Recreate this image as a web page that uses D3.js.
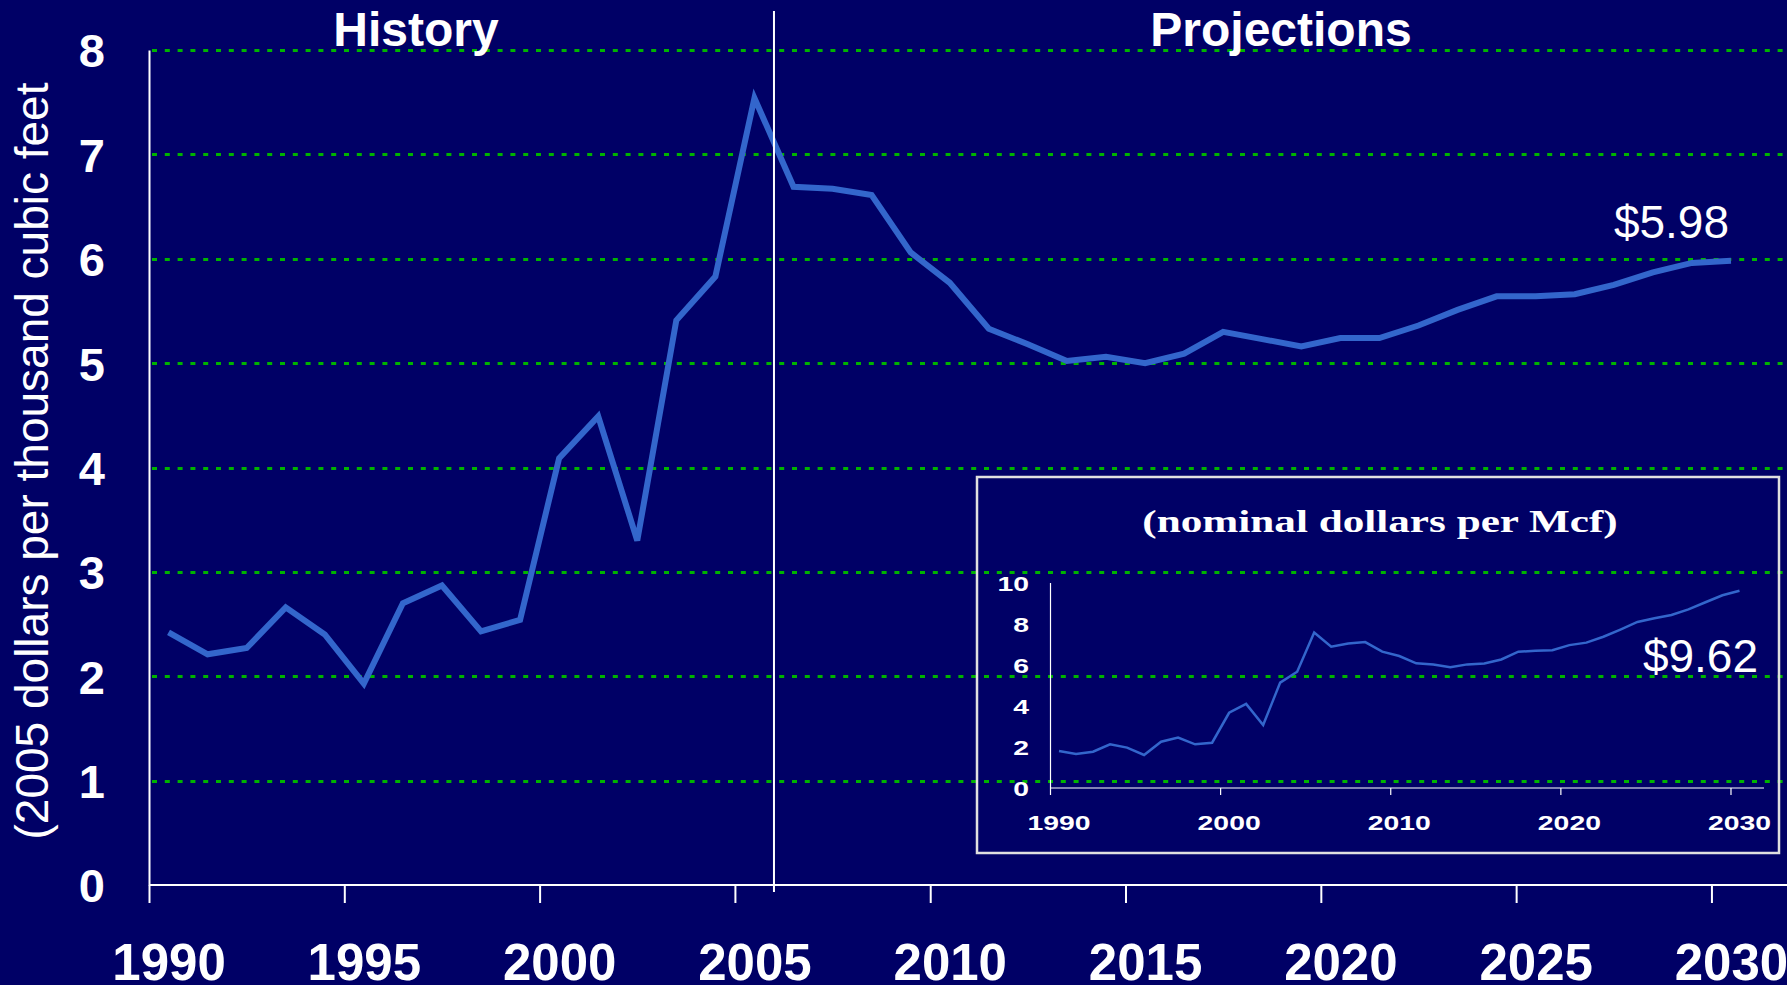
<!DOCTYPE html>
<html>
<head>
<meta charset="utf-8">
<script src="https://cdn.jsdelivr.net/npm/d3@7"></script>
<style>
  html, body { margin: 0; padding: 0; background: #000066; }
  svg { display: block; font-family: "Liberation Sans", Arial, sans-serif; }
</style>
</head>
<body>
<div id="chart"></div>
<script>
// Size of the slide
var width = 1787;
var height = 985;

// Chart data
var years = d3.range(1990, 2031);
var tickYears = [1990, 1995, 2000, 2005, 2010, 2015, 2020, 2025, 2030];
var yTicks = [0, 1, 2, 3, 4, 5, 6, 7, 8];

// 2005 dollars per thousand cubic feet
var realPrice = [2.42, 2.21, 2.27, 2.66, 2.40, 1.93, 2.70, 2.87, 2.43, 2.54,
    4.09, 4.49, 3.30, 5.41, 5.83, 7.54, 6.69, 6.67, 6.61, 6.06,
    5.77, 5.33, 5.18, 5.02, 5.06, 5.00, 5.09, 5.30, 5.23, 5.16,
    5.24, 5.24, 5.36, 5.51, 5.64, 5.64, 5.66, 5.75, 5.87, 5.96, 5.98];

// nominal dollars per Mcf (inset)
var nominalPrice = [1.81, 1.66, 1.77, 2.13, 1.97, 1.61, 2.26, 2.46, 2.13, 2.21,
    3.67, 4.10, 3.07, 5.14, 5.67, 7.58, 6.89, 7.05, 7.12, 6.65,
    6.44, 6.08, 6.02, 5.89, 6.03, 6.07, 6.27, 6.65, 6.69, 6.72,
    6.97, 7.09, 7.38, 7.73, 8.10, 8.28, 8.44, 8.71, 9.06, 9.40, 9.62];
var insetTickYears = [1990, 2000, 2010, 2020, 2030];
var insetYTicks = [0, 2, 4, 6, 8, 10];

var lineColor = "#3366cc";
var gridColor = "#00b400";

var svg = d3.select("#chart")
    .append("svg")
    .attr("width", width)
    .attr("height", height);

svg.append("rect")
    .attr("width", width)
    .attr("height", height)
    .attr("fill", "#000066");

// Scales: x is categorical, one slot per year, ticks on slot boundaries
var x = d3.scaleLinear()
    .domain([1990, 2031])
    .range([149, 1750.5]);
var half = (x(1991) - x(1990)) / 2;

var y = d3.scaleLinear()
    .domain([0, 8])
    .range([885, 50]);

// Gridlines (snapped to whole pixels so the dots stay crisp)
svg.append("g")
    .selectAll("line")
    .data(yTicks.filter(function(d) { return d > 0; }))
    .enter()
    .append("line")
    .attr("x1", 152)
    .attr("x2", width)
    .attr("y1", function(d) { return Math.round(y(d)) + 0.5; })
    .attr("y2", function(d) { return Math.round(y(d)) + 0.5; })
    .attr("stroke", gridColor)
    .attr("stroke-width", 3)
    .attr("stroke-dasharray", "5,7.8");

// X axis
var xAxis = svg.append("g")
    .attr("transform", "translate(0," + y(0) + ")")
    .call(d3.axisBottom(x)
        .tickValues(tickYears)
        .tickSize(18)
        .tickFormat(d3.format("d")));
xAxis.select(".domain").remove();
xAxis.selectAll(".tick line")
    .attr("stroke", "#ffffff")
    .attr("stroke-width", 2);
xAxis.selectAll(".tick text")
    .attr("x", half)
    .attr("y", 95)
    .attr("dy", null)
    .attr("fill", "#ffffff")
    .style("font-size", "51px")
    .style("font-weight", "bold")
    .style("font-family", "'Liberation Sans', Arial, sans-serif");

svg.append("line")
    .attr("x1", x(1990))
    .attr("x2", width)
    .attr("y1", y(0))
    .attr("y2", y(0))
    .attr("stroke", "#ffffff")
    .attr("stroke-width", 2);

// Y axis
var yAxis = svg.append("g")
    .attr("transform", "translate(" + x(1990) + ",0)")
    .call(d3.axisLeft(y)
        .tickValues(yTicks)
        .tickSize(0)
        .tickPadding(44)
        .tickFormat(d3.format("d")));
yAxis.select(".domain")
    .attr("stroke", "#ffffff")
    .attr("stroke-width", 2);
yAxis.selectAll(".tick text")
    .attr("dy", "0.36em")
    .attr("fill", "#ffffff")
    .style("font-size", "47px")
    .style("font-weight", "bold")
    .style("font-family", "'Liberation Sans', Arial, sans-serif");

// Y axis title
svg.append("text")
    .attr("transform", "translate(48,461) rotate(-90)")
    .attr("text-anchor", "middle")
    .attr("fill", "#ffffff")
    .style("font-size", "46px")
    .text("(2005 dollars per thousand cubic feet");

// Main line
var line = d3.line()
    .x(function(d, i) { return x(years[i]) + half; })
    .y(function(d) { return y(d); });

svg.append("path")
    .datum(realPrice)
    .attr("d", line)
    .attr("fill", "none")
    .attr("stroke", lineColor)
    .attr("stroke-width", 6);

// History / Projections split
svg.append("line")
    .attr("x1", x(2006))
    .attr("x2", x(2006))
    .attr("y1", 11)
    .attr("y2", 892)
    .attr("stroke", "#ffffff")
    .attr("stroke-width", 2);

svg.append("text")
    .attr("x", 416)
    .attr("y", 46)
    .attr("text-anchor", "middle")
    .attr("fill", "#ffffff")
    .style("font-size", "48px")
    .style("font-weight", "bold")
    .text("History");

svg.append("text")
    .attr("x", 1281)
    .attr("y", 46)
    .attr("text-anchor", "middle")
    .attr("fill", "#ffffff")
    .style("font-size", "48px")
    .style("font-weight", "bold")
    .text("Projections");

svg.append("text")
    .attr("x", 1729)
    .attr("y", 238)
    .attr("text-anchor", "end")
    .attr("fill", "#ffffff")
    .style("font-size", "46px")
    .text("$" + realPrice[realPrice.length - 1].toFixed(2));

// ---- Inset (nominal dollars) ----
var inset = svg.append("g");
var stretch = 1.35;

inset.append("rect")
    .attr("x", 977)
    .attr("y", 477)
    .attr("width", 802)
    .attr("height", 376)
    .attr("fill", "none")
    .attr("stroke", "#e0e0e0")
    .attr("stroke-width", 2.5);

inset.append("text")
    .attr("transform", "translate(1380,532) scale(" + stretch + ",1)")
    .attr("text-anchor", "middle")
    .attr("fill", "#ffffff")
    .style("font-family", "'Liberation Serif', 'Times New Roman', serif")
    .style("font-size", "32px")
    .style("font-weight", "bold")
    .text("(nominal dollars per Mcf)");

var xIn = d3.scaleLinear()
    .domain([1990, 2031])
    .range([1050.5, 1748]);
var halfIn = (xIn(1991) - xIn(1990)) / 2;

var yIn = d3.scaleLinear()
    .domain([0, 10])
    .range([788, 583]);

// inset axes lines
inset.append("line")
    .attr("x1", xIn(1990))
    .attr("x2", xIn(1990))
    .attr("y1", yIn(10))
    .attr("y2", yIn(0) + 7)
    .attr("stroke", "#ffffff")
    .attr("stroke-width", 1.2);

inset.append("line")
    .attr("x1", xIn(1990))
    .attr("x2", 1764)
    .attr("y1", yIn(0))
    .attr("y2", yIn(0))
    .attr("stroke", "#ffffff")
    .attr("stroke-width", 1.2);

inset.append("g")
    .selectAll("line")
    .data(insetTickYears.slice(1))
    .enter()
    .append("line")
    .attr("x1", function(d) { return xIn(d); })
    .attr("x2", function(d) { return xIn(d); })
    .attr("y1", yIn(0))
    .attr("y2", yIn(0) + 7)
    .attr("stroke", "#ffffff")
    .attr("stroke-width", 1.2);

inset.append("g")
    .selectAll("text")
    .data(insetYTicks)
    .enter()
    .append("text")
    .attr("transform", function(d) {
        return "translate(1029," + (yIn(d) + 7.5) + ") scale(" + stretch + ",1)";
    })
    .attr("text-anchor", "end")
    .attr("fill", "#ffffff")
    .style("font-size", "21px")
    .style("font-weight", "bold")
    .text(function(d) { return d; });

inset.append("g")
    .selectAll("text")
    .data(insetTickYears)
    .enter()
    .append("text")
    .attr("transform", function(d) {
        return "translate(" + (xIn(d) + halfIn) + ",830) scale(" + stretch + ",1)";
    })
    .attr("text-anchor", "middle")
    .attr("fill", "#ffffff")
    .style("font-size", "21px")
    .style("font-weight", "bold")
    .text(function(d) { return d; });

var lineIn = d3.line()
    .x(function(d, i) { return xIn(years[i]) + halfIn; })
    .y(function(d) { return yIn(d); });

inset.append("path")
    .datum(nominalPrice)
    .attr("d", lineIn)
    .attr("fill", "none")
    .attr("stroke", lineColor)
    .attr("stroke-width", 2.5);

inset.append("text")
    .attr("x", 1758)
    .attr("y", 672)
    .attr("text-anchor", "end")
    .attr("fill", "#ffffff")
    .style("font-size", "46px")
    .text("$" + nominalPrice[nominalPrice.length - 1].toFixed(2));
</script>
</body>
</html>
